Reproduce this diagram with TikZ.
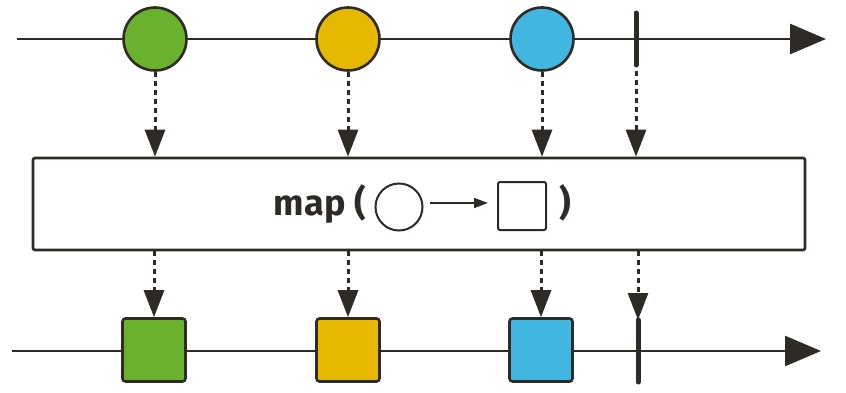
\documentclass[tikz,border=0pt]{standalone}
\usepackage{fontspec}
\setmainfont{Fira Sans}
\usetikzlibrary{arrows.meta,calc}
\definecolor{ink}{HTML}{2E2B27}
\definecolor{cgreen}{HTML}{6AB22E}
\definecolor{cyellow}{HTML}{E6B800}
\definecolor{cblue}{HTML}{41B6E0}
\tikzset{
  timeline/.style={draw=ink, line width=2.6pt, -{Triangle[length=36pt,width=30pt]}},
  marble/.style={circle, draw=ink, line width=2.6pt, minimum size=63pt, inner sep=0pt},
  box/.style={rectangle, rounded corners=3pt, draw=ink, line width=2.6pt, minimum size=63pt, inner sep=0pt},
  endbar/.style={draw=ink, line width=5pt, line cap=round},
  flow/.style={draw=ink, line width=3pt, dash pattern=on 5pt off 4pt, -{Triangle[length=27pt,width=20pt]}},
  opbox/.style={rectangle, rounded corners=2pt, draw=ink, line width=2.6pt, minimum width=772pt, minimum height=92pt, inner sep=0pt},
  optext/.style={font=\bfseries\fontsize{36}{40}\selectfont, text=ink, inner sep=0pt},
}
\begin{document}
\begin{tikzpicture}[x=1pt,y=-1pt]
\useasboundingbox (0,0) rectangle (846,393);
% top timeline
\coordinate (ts) at (17,39);
\coordinate (te) at (826,39);
\draw[timeline] (ts) -- (te);
\node[marble, fill=cgreen] (c1) at (155,39) {};
\node[marble, fill=cyellow] (c2) at (348,39) {};
\node[marble, fill=cblue] (c3) at (542,39) {};
\coordinate (b1t) at (636,13);
\coordinate (b1b) at (636,65);
\draw[endbar] (b1t) -- (b1b);
% operator box
\node[opbox] (op) at (419,204) {};
\node[optext, anchor=base east] (lbl) at (366,215) {map (};
\node[circle, draw=ink, line width=2pt, minimum size=47pt, inner sep=0pt] (ic) at (399,207) {};
\node[rectangle, rounded corners=2pt, draw=ink, line width=2pt, minimum size=48pt, inner sep=0pt] (is) at (522,206) {};
\coordinate (ia) at (430,203);
\coordinate (ib) at (488,203);
\draw[draw=ink, line width=1.6pt, -{Triangle[length=14pt,width=10pt]}] (ia) -- (ib);
\node[optext, anchor=base west] (rp) at (559,215) {)};
% top flow arrows
\coordinate (t4) at (636,71);
\draw[flow] (c1.south) -- (c1.south |- op.north);
\draw[flow] (c2.south) -- (c2.south |- op.north);
\draw[flow] (c3.south) -- (c3.south |- op.north);
\draw[flow] (t4) -- (t4 |- op.north);
% bottom timeline
\coordinate (bs) at (12,351);
\coordinate (be) at (821,351);
\draw[timeline] (bs) -- (be);
\node[box, fill=cgreen] (s1) at (154,350) {};
\node[box, fill=cyellow] (s2) at (348,350) {};
\node[box, fill=cblue] (s3) at (541,350) {};
\coordinate (b2t) at (638,320);
\coordinate (b2b) at (638,382);
\draw[endbar] (b2t) -- (b2b);
% bottom flow arrows
\draw[flow] (s1.north |- op.south) -- (s1.north);
\draw[flow] (s2.north |- op.south) -- (s2.north);
\draw[flow] (s3.north |- op.south) -- (s3.north);
\draw[flow] (b2t |- op.south) -- (b2t);
\end{tikzpicture}
\end{document}
